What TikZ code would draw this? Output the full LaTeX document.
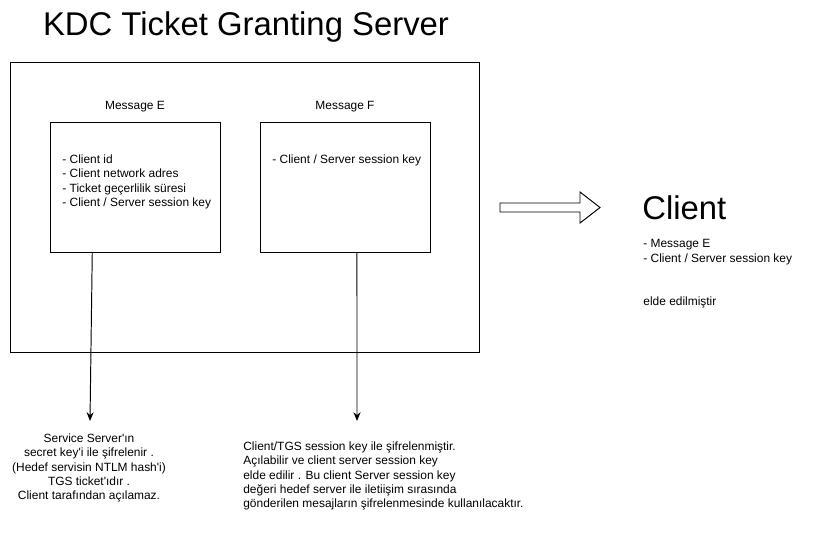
\documentclass[tikz,border=0pt]{standalone}
\usepackage{fontspec}
\setmainfont{Liberation Sans}
\usetikzlibrary{arrows.meta, positioning, calc}
\newcommand{\aps}{\textquotesingle}

\begin{document}
\begin{tikzpicture}[
        x=0.02cm, y=-0.02cm,
        font=\fontsize{6.8}{8.2}\selectfont,
        outerbox/.style={draw, line width=0.55pt, minimum width=9.4cm, minimum height=5.8cm},
        msgbox/.style={draw, line width=0.55pt, minimum width=3.4cm, minimum height=2.6cm},
        bigtitle/.style={font=\fontsize{18.7}{22}\selectfont, inner sep=0pt},
        msgtext/.style={align=left, inner sep=0pt, anchor=west},
        note/.style={inner sep=0pt},
        arr/.style={-{Stealth[length=5pt, width=4pt]}, line width=0.55pt},
    ]
        \useasboundingbox (0,0) rectangle (830,532);

        % --- KDC side: title, outer frame, two messages ---
        \node[bigtitle] (title) at (246,27) {KDC Ticket Granting Server};
        \node[outerbox] (kdc) at (245,207) {};
        \node[msgbox] (boxE) at (135,187) {};
        \node[msgbox] (boxF) at (345,187) {};
        \node[note, above=5pt of boxE] (labE) {Message E};
        \node[note, above=5pt of boxF] (labF) {Message F};
        \node[msgtext] (textE) at (62,182) {- Client id\\- Client network adres\\- Ticket geçerlilik süresi\\- Client / Server session key};
        \node[msgtext] (textF) at (272,160) {- Client / Server session key};

        % --- Notes below the messages ---
        \node[note, align=center] (noteE) at (89,468) {Service Server\aps{}ın\\secret key\aps{}i ile şifrelenir .\\(Hedef servisin NTLM hash\aps{}i)\\TGS ticket\aps{}ıdır .\\Client tarafından açılamaz.};
        \node[note, align=left, anchor=west] (noteF) at (243,476) {Client/TGS session key ile şifrelenmiştir.\\Açılabilir ve client server session key\\elde edilir . Bu client Server session key\\değeri hedef server ile iletiişim sırasında\\gönderilen mesajların şifrelenmesinde kullanılacaktır.};
        \coordinate (tipE) at (90,421);
        \coordinate (tipF) at (357,421);
        \draw[arr] ($(boxE.south west)!0.25!(boxE.south east)$) -- (tipE);
        \draw[arr] ($(boxF.south west)!0.57!(boxF.south east)$) -- (tipF);

        % --- Hollow arrow towards the client ---
        \draw[line width=0.55pt] (500,203) -- (580,203) -- (580,192) -- (600,207.5) -- (580,223) -- (580,212) -- (500,212) -- cycle;

        % --- Client side ---
        \node[bigtitle, anchor=west] (client) at (642,208) {Client};
        \node[msgtext] (clientlist) at (643,252) {- Message E\\- Client / Server session key};
        \node[msgtext] (obtained) at (643,302) {elde edilmiştir};
    \end{tikzpicture}
\end{document}
